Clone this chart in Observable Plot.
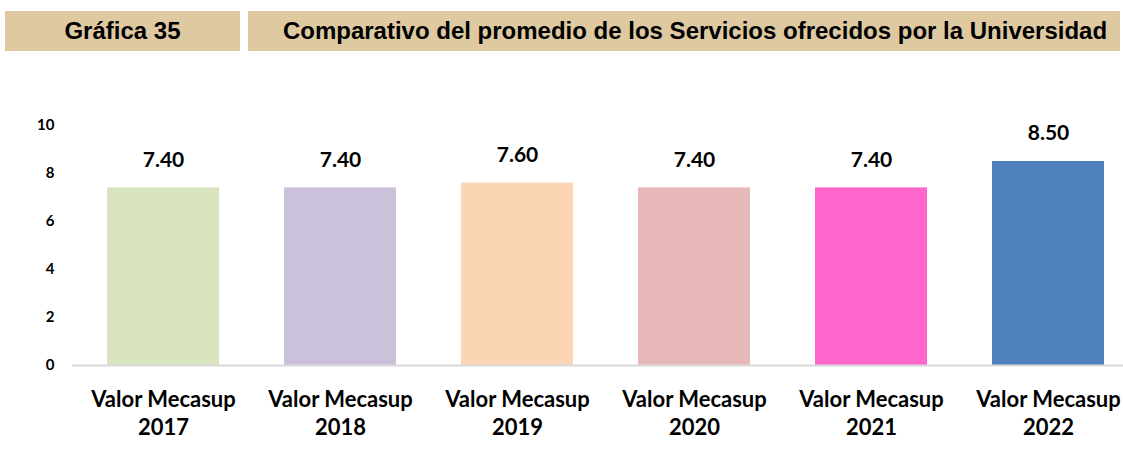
<!DOCTYPE html>
<html>
<head>
<meta charset="utf-8">
<script src="https://cdn.jsdelivr.net/npm/d3@7"></script>
<script src="https://cdn.jsdelivr.net/npm/@observablehq/plot@0.6"></script>
<style>
  html, body { margin: 0; padding: 0; background: #fff; }
  body { width: 1123px; height: 464px; position: relative; overflow: hidden; }
  .hbox { position: absolute; top: 11px; height: 40px; background: #DEC9A1;
          font-family: "Liberation Sans", Arial, sans-serif; font-weight: bold; font-size: 24px;
          color: #000; display: flex; align-items: center; justify-content: center; }
  #chart { position: absolute; left: 0; top: 0; }
</style>
</head>
<body>
<div class="hbox" style="left:5px; width:235px;">Gráfica 35</div>
<div class="hbox" style="left:248px; width:872px; padding-left:22px; box-sizing:border-box;">Comparativo del promedio de los Servicios ofrecidos por la Universidad</div>
<div id="chart"></div>
<script>
const categories = ["Valor Mecasup\n2017", "Valor Mecasup\n2018", "Valor Mecasup\n2019", "Valor Mecasup\n2020", "Valor Mecasup\n2021", "Valor Mecasup\n2022"];
const values = [7.4, 7.4, 7.6, 7.4, 7.4, 8.5];
const colors = ["#D7E4BD", "#CCC1DA", "#FCD5B5", "#E6B9B8", "#FF66CC", "#4F81BD"];
const yTicks = [0, 2, 4, 6, 8, 10];

const data = categories.map((c, i) => ({cat: c, value: values[i], color: colors[i]}));

const chart = Plot.plot({
  width: 1123,
  height: 464,
  marginTop: 125,
  marginBottom: 99,
  marginLeft: 72,
  marginRight: 0,
  style: {background: "transparent", overflow: "visible"},
  x: {domain: categories, range: [72, 1138], paddingInner: 0.37, paddingOuter: 0.185, axis: null},
  y: {domain: [0, 10], axis: null},
  marks: [
    Plot.barY(data, {x: "cat", y: "value", fill: "color"}),
    Plot.ruleY([0], {stroke: "#D9D9D9", strokeWidth: 2}),
    Plot.text(yTicks, {x: () => categories[0], y: d => d, text: d => String(d), frameAnchor: "left", dx: -109,
      textAnchor: "end", fontFamily: "Lato, sans-serif", fontWeight: "bold", fontSize: 15, fill: "#000"}),
    Plot.text(data, {x: "cat", y: "value", text: d => d.value.toFixed(2), dy: -28,
      fontFamily: "Lato, sans-serif", fontWeight: "bold", fontSize: 21, fill: "#000"}),
    Plot.text(data, {x: "cat", y: 0, text: "cat", lineAnchor: "top", dy: 22, lineHeight: 1.27,
      fontFamily: "Lato, sans-serif", fontWeight: "bold", fontSize: 22, fill: "#000"})
  ]
});
document.getElementById("chart").appendChild(chart);
</script>
</body>
</html>
